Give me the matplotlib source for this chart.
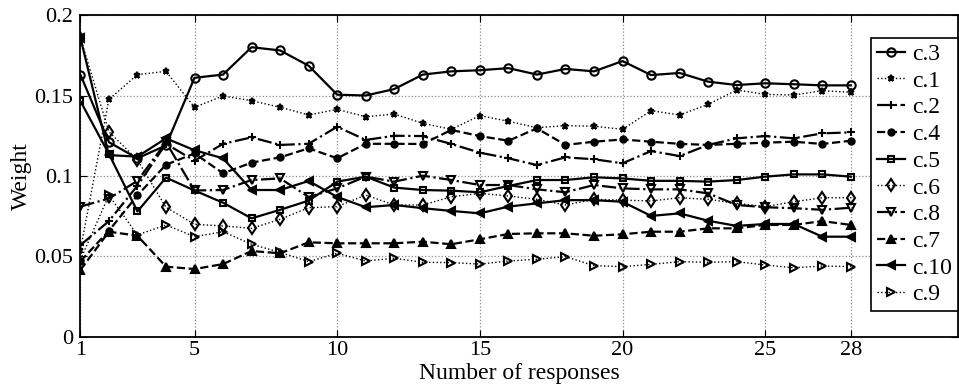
import numpy as np
import matplotlib
matplotlib.use('Agg')
import matplotlib.pyplot as plt

plt.rcParams['font.family'] = ['Liberation Serif', 'DejaVu Serif']

responses = list(range(1, 29))

c3 = [0.163, 0.121, 0.111, 0.119, 0.161, 0.163, 0.180, 0.178, 0.1685, 0.1505, 0.150, 0.154, 0.163, 0.165,
      0.1657, 0.167, 0.163, 0.1665, 0.165, 0.1714, 0.1627, 0.164, 0.1586, 0.1565, 0.1576, 0.157, 0.1563, 0.1563]
c1 = [0.054, 0.1476, 0.163, 0.165, 0.1427, 0.1497, 0.1468, 0.1427, 0.1379, 0.1414, 0.1368, 0.1385, 0.1327, 0.129,
      0.1375, 0.134, 0.130, 0.1313, 0.1309, 0.129, 0.1406, 0.1379, 0.1445, 0.1534, 0.1507, 0.1503, 0.153, 0.152]
c2 = [0.057, 0.072, 0.094, 0.120, 0.1095, 0.120, 0.124, 0.1193, 0.120, 0.1306, 0.1224, 0.125, 0.1248, 0.1199,
      0.1145, 0.111, 0.1068, 0.1116, 0.1104, 0.1079, 0.1155, 0.1124, 0.1193, 0.1234, 0.1248, 0.1234, 0.1265, 0.1271]
c4 = [0.047, 0.066, 0.088, 0.107, 0.114, 0.1017, 0.1083, 0.1116, 0.1172, 0.111, 0.120, 0.120, 0.1199, 0.1286,
      0.1248, 0.1219, 0.1296, 0.1193, 0.1213, 0.1227, 0.1213, 0.120, 0.1193, 0.120, 0.1207, 0.1213, 0.1199, 0.1219]
c5 = [0.1466, 0.1137, 0.078, 0.099, 0.091, 0.0834, 0.0737, 0.079, 0.0847, 0.0965, 0.0996, 0.0928, 0.0913, 0.0909,
      0.0899, 0.0938, 0.0975, 0.0975, 0.0992, 0.0985, 0.097, 0.097, 0.0965, 0.0975, 0.0996, 0.101, 0.101, 0.0996]
c6 = [0.186, 0.1275, 0.110, 0.0806, 0.070, 0.069, 0.0675, 0.0731, 0.0803, 0.081, 0.0882, 0.082, 0.082, 0.0871,
      0.0892, 0.0876, 0.0855, 0.082, 0.0855, 0.085, 0.0845, 0.0865, 0.0855, 0.083, 0.081, 0.084, 0.0865, 0.0865]
c8 = [0.081, 0.086, 0.097, 0.121, 0.091, 0.0913, 0.0975, 0.0985, 0.087, 0.0923, 0.0996, 0.0965, 0.1002, 0.0975,
      0.0944, 0.0944, 0.0917, 0.0899, 0.0944, 0.0923, 0.0917, 0.0917, 0.0892, 0.082, 0.0806, 0.080, 0.079, 0.0803]
c7 = [0.0416, 0.0654, 0.0629, 0.0437, 0.0422, 0.0453, 0.0534, 0.052, 0.0588, 0.0582, 0.0582, 0.0582, 0.0592, 0.0576,
      0.0607, 0.064, 0.0644, 0.0644, 0.0629, 0.0638, 0.0654, 0.0654, 0.0675, 0.0675, 0.0696, 0.0696, 0.072, 0.0696]
c10 = [0.186, 0.113, 0.112, 0.1234, 0.116, 0.111, 0.0913, 0.0913, 0.0969, 0.087, 0.0806, 0.082, 0.080, 0.0783,
       0.0768, 0.081, 0.083, 0.085, 0.085, 0.084, 0.0752, 0.0768, 0.0722, 0.069, 0.0702, 0.0702, 0.0623, 0.0623]
c9 = [0.048, 0.088, 0.0634, 0.0696, 0.0623, 0.0654, 0.0576, 0.0526, 0.0468, 0.052, 0.0472, 0.0489, 0.0464, 0.0462,
      0.0453, 0.0472, 0.0483, 0.0499, 0.0443, 0.0437, 0.0451, 0.0468, 0.0464, 0.0468, 0.0447, 0.043, 0.0441, 0.0437]

series = [('c.3', c3, '-', 'o', 'none'),
          ('c.1', c1, ':', '*', 'k'),
          ('c.2', c2, '-.', '+', 'k'),
          ('c.4', c4, '--', '.', 'k'),
          ('c.5', c5, '-', 's', 'none'),
          ('c.6', c6, ':', 'd', 'none'),
          ('c.8', c8, '-.', 'v', 'none'),
          ('c.7', c7, '--', '^', 'k'),
          ('c.10', c10, '-', '<', 'k'),
          ('c.9', c9, ':', '>', 'none')]

fig = plt.figure(figsize=(9.59, 3.89), dpi=100)
ax = fig.add_axes([0.0838, 0.1337, 0.915, 0.8277])

for name, vals, ls, mk, fc in series:
    lw = 1.0 if ls == ':' else 1.6
    ms = 6 if mk not in ('.', '*', 's') else 5
    if mk == '.':
        ms = 9
    ax.plot(responses, vals, linestyle=ls, marker=mk, color='k', lw=lw,
            markersize=ms, markerfacecolor=fc, markeredgewidth=1.5, label=name)

ax.set_xlim(1, 31.75)
ax.set_ylim(0, 0.2)
ax.set_xticks([1, 5, 10, 15, 20, 25, 28])
ax.set_yticks([0, 0.05, 0.1, 0.15, 0.2])
ax.set_yticklabels(['0', '0.05', '0.1', '0.15', '0.2'])
ax.tick_params(direction='in', top=True, right=True, labelsize=16, length=5)
ax.tick_params(axis='x', pad=3)
ax.tick_params(axis='y', pad=5)
ax.grid(True, linestyle=':', color='0.55', lw=0.9)
for s in ax.spines.values():
    s.set_linewidth(1.3)

ax.set_xlabel('Number of responses', fontsize=17, labelpad=2)
ax.set_ylabel('Weight', fontsize=17, labelpad=2)

leg = ax.legend(loc='upper right', bbox_to_anchor=(1.0, 0.93), fontsize=17, frameon=True,
                fancybox=False, edgecolor='k', framealpha=1, handlelength=1.2,
                handletextpad=0.3, labelspacing=0.22, borderpad=0.25, borderaxespad=0.0)
leg.get_frame().set_linewidth(1.2)

fig.savefig('out.png', dpi=100)
